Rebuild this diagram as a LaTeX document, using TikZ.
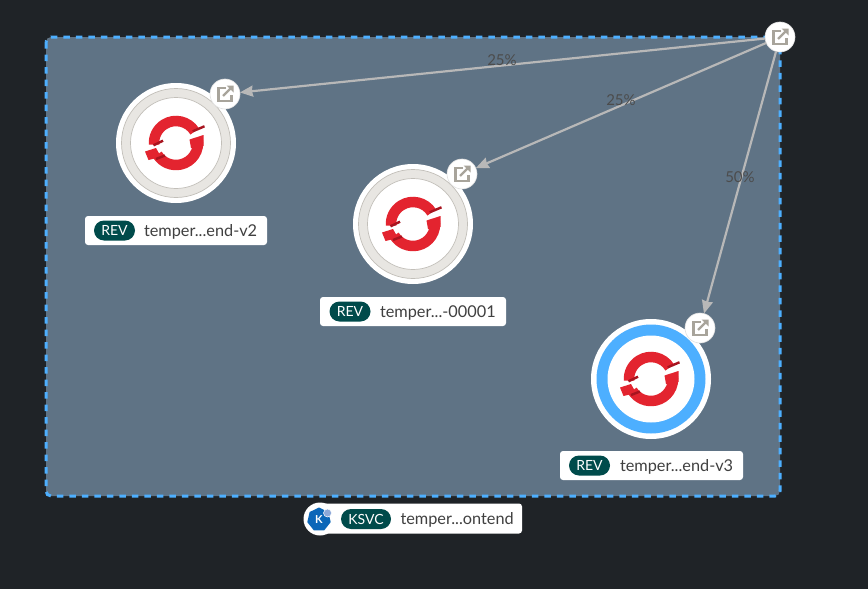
\documentclass[tikz,border=0pt]{standalone}
\usepackage{fontspec}
\setmainfont{Lato}
\usetikzlibrary{shapes.geometric, arrows.meta}
\definecolor{pagebg}{HTML}{1F2327}
\definecolor{groupbg}{HTML}{5F7385}
\definecolor{groupline}{HTML}{4DAFFF}
\definecolor{pillbg}{HTML}{004B4B}
\definecolor{iconcol}{HTML}{A8A49B}
\definecolor{ringcol}{HTML}{E8E6E2}
\definecolor{edgecol}{HTML}{B8B8B8}
\definecolor{logored}{HTML}{E3242F}
\definecolor{logodark}{HTML}{A8141F}
\definecolor{kubeblue}{HTML}{0B66B8}
\definecolor{kubedot}{HTML}{8DA8D8}
\tikzset{
  oslogo/.pic={
    \draw[logored, line width=10.5pt] (32:22pt) arc[start angle=32, end angle=184, radius=22pt];
    \draw[logored, line width=10.5pt] (12:22pt) arc[start angle=12, end angle=-148, radius=22pt];
    \fill[logored] (13.5pt,3.5pt) -- (27.5pt,8pt) -- (27.5pt,-3pt) -- (15pt,-5pt) -- cycle;
    \fill[logored] (-31pt,-8.5pt) -- (-20pt,-5pt) -- (-15pt,-14pt) -- (-27.5pt,-17pt) -- cycle;
    \draw[logodark, line width=2.4pt] (16.7pt,11.7pt) -- (28.5pt,16.7pt);
    \draw[logodark, line width=2.4pt] (-22.5pt,-2.3pt) -- (-13pt,2.3pt);
    \draw[logodark, line width=2.4pt] (-20pt,-16pt) -- (-11pt,-12.5pt);
  },
  linkicon/.pic={
    \draw[iconcol, line width=2.2pt] (1pt,6pt) -- (-6.5pt,6pt) -- (-6.5pt,-7pt) -- (6.5pt,-7pt) -- (6.5pt,-1pt);
    \draw[iconcol, line width=2.2pt] (-2pt,-2pt) -- (7pt,7pt);
    \fill[iconcol] (1.5pt,8.5pt) -- (8.5pt,8.5pt) -- (8.5pt,1.5pt) -- cycle;
  }
}
\begin{document}
\begin{tikzpicture}[x=1pt, y=-1pt, semithick, font=\fontsize{16.3}{18}\selectfont]
\tikzstyle{every node}=[inner sep=0pt, outer sep=0pt]
\tikzstyle{group}=[draw=groupline, fill=groupbg, line width=3pt, dash pattern=on 6.5pt off 6pt, rounded corners=5pt]
\tikzstyle{halo}=[circle, fill=white, minimum size=120pt]
\tikzstyle{oldring}=[circle, draw=iconcol!70, line width=.7pt, fill=ringcol, minimum size=109pt]
\tikzstyle{oldcore}=[circle, draw=iconcol!70, line width=.7pt, fill=white, minimum size=91pt]
\tikzstyle{newring}=[circle, fill=groupline, minimum size=109pt]
\tikzstyle{newcore}=[circle, fill=white, minimum size=87pt]
\tikzstyle{badge}=[circle, fill=white, draw=black!12, line width=.6pt, minimum size=30pt]
\tikzstyle{namebox}=[rectangle, fill=white, rounded corners=3pt, minimum height=29pt]
\tikzstyle{pill}=[rectangle, fill=pillbg, text=white, rounded corners=10pt, minimum height=20pt, font=\fontsize{14}{16}\selectfont]
\tikzstyle{nametext}=[text=black!75]
\tikzstyle{traffic}=[-{Stealth[length=13pt, width=11pt, inset=1pt]}, color=edgecol, line width=2.2pt]
\tikzstyle{percent}=[text=black!70, font=\fontsize{15}{18}\selectfont]

\useasboundingbox (0,0) rectangle (868,589);
\fill[pagebg] (0,0) rectangle (868,589);
\draw[group] (46,37) rectangle (780,496);

\node[halo]    (haloA) at (176,143) {};
\node[oldring] (ringA) at (haloA)   {};
\node[oldcore] (coreA) at (haloA)   {};
\pic at (coreA) {oslogo};
\node[badge]   (linkA) at (225,94)  {};
\pic at (linkA) {linkicon};

\node[halo]    (haloB) at (413,224) {};
\node[oldring] (ringB) at (haloB)   {};
\node[oldcore] (coreB) at (haloB)   {};
\pic at (coreB) {oslogo};
\node[badge]   (linkB) at (462,174) {};
\pic at (linkB) {linkicon};

\node[halo]    (haloC) at (651,379) {};
\node[newring] (ringC) at (haloC)   {};
\node[newcore] (coreC) at (haloC)   {};
\pic at (coreC) {oslogo};
\node[badge]   (linkC) at (700,328) {};
\pic at (linkC) {linkicon};

\node[badge]   (linkTop) at (780,37) {};
\pic at (linkTop) {linkicon};

\path[traffic]
(linkTop) edge (linkA)
(linkTop) edge (linkB)
(linkTop) edge (linkC);
\node[percent] (pctA) at (502,60.5)  {25\%};
\node[percent] (pctB) at (621,100.5) {25\%};
\node[percent] (pctC) at (740,177.5) {50\%};

\node[namebox, minimum width=182pt] (boxA) at (176,230.5) {};
\node[pill, minimum width=41pt]     (pillA) at (114.5,230.5) {REV};
\node[nametext, anchor=west]        (nameA) at (144,231.5) {temper...end-v2};

\node[namebox, minimum width=186pt] (boxB) at (413,311.5) {};
\node[pill, minimum width=41pt]     (pillB) at (350,311.5) {REV};
\node[nametext, anchor=west]        (nameB) at (380,312.5) {temper...-00001};

\node[namebox, minimum width=183pt] (boxC) at (651.5,465.5) {};
\node[pill, minimum width=41pt]     (pillC) at (589.5,465.5) {REV};
\node[nametext, anchor=west]        (nameC) at (620,466.5) {temper...end-v3};

\node[namebox, minimum width=205pt, minimum height=30pt] (boxK) at (419.5,518.5) {};
\node[circle, fill=white, minimum size=33pt] (kHalo) at (320,519) {};
\node[regular polygon, regular polygon sides=7, fill=kubeblue, minimum size=24pt, text=white, font=\fontsize{11}{12}\bfseries\selectfont] (kIcon) at (319,519.5) {K};
\node[circle, fill=kubedot, draw=white, line width=.5pt, minimum size=8pt] (kDot) at (327.5,513) {};
\node[pill, minimum width=50pt]     (pillK) at (366,519) {KSVC};
\node[nametext, anchor=west]        (nameK) at (400.5,520) {temper...ontend};
\end{tikzpicture}
\end{document}
